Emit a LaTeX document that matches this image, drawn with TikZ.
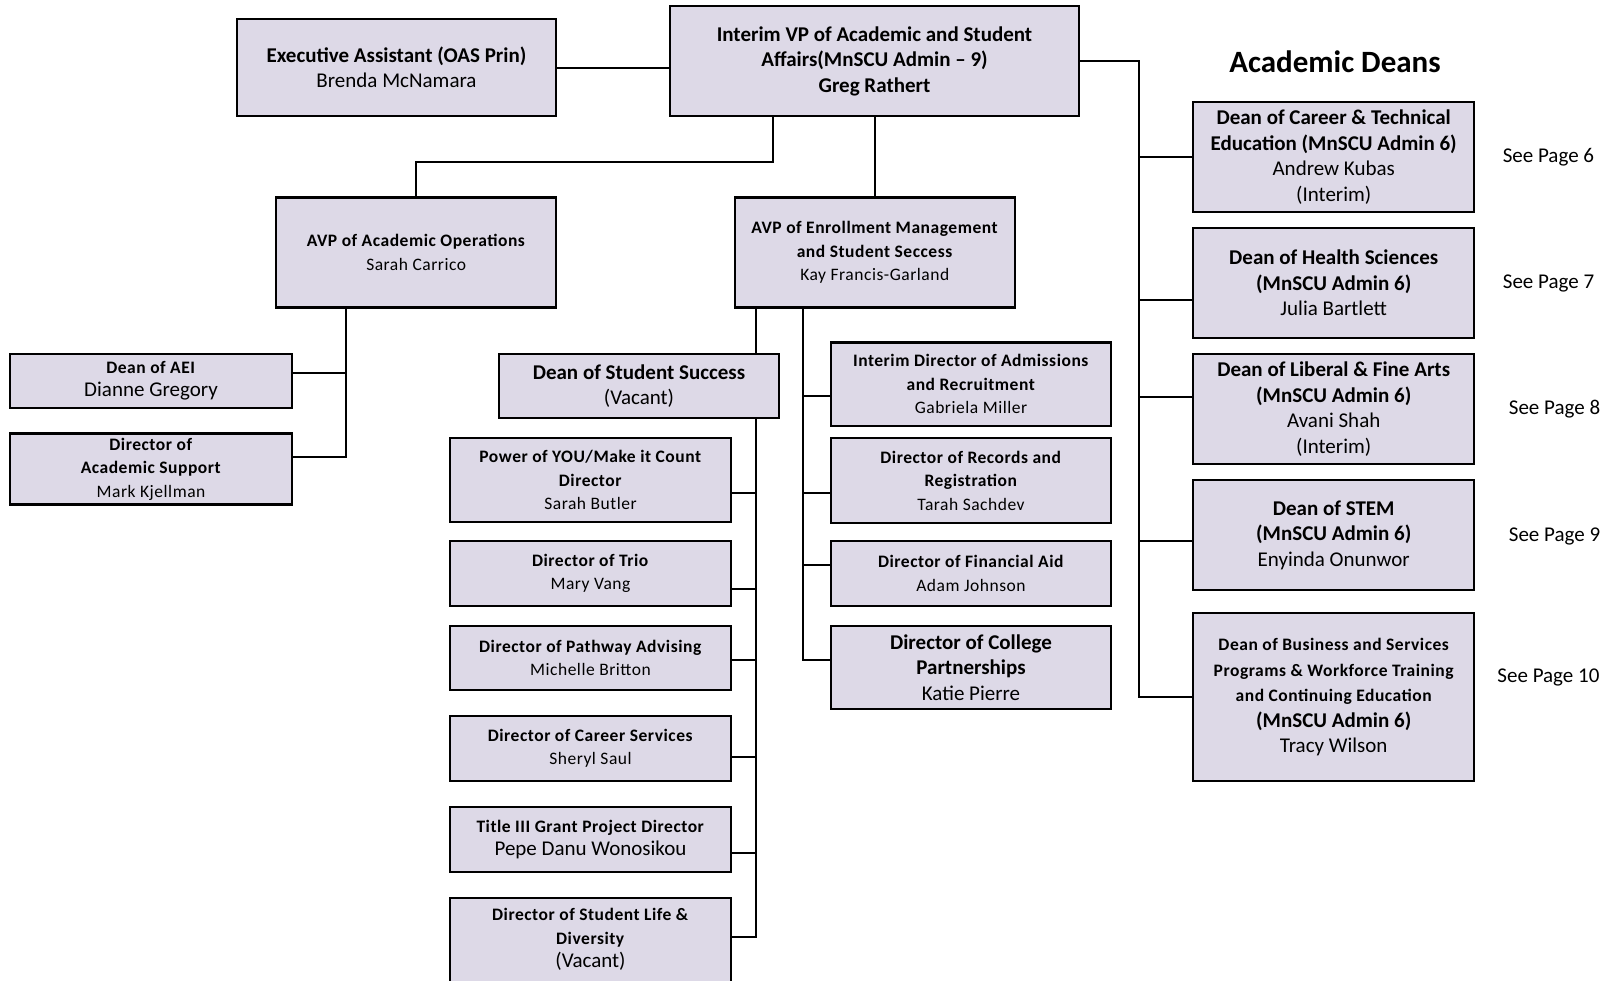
\documentclass[tikz,border=0pt]{standalone}
\usepackage{fontspec}
\setmainfont{Carlito}
\newfontfamily\spcfont{Carlito}[LetterSpace=3]
\usetikzlibrary{calc}
\definecolor{boxfill}{RGB}{221,217,231}
\newcommand\bigf{\fontsize{21}{25.5}\selectfont}
\newcommand\smallf{\spcfont\fontsize{17.5}{23.5}\selectfont}
\newcommand\headf{\fontsize{31}{36}\selectfont}
\begin{document}
\begin{tikzpicture}[x=1pt,y=-1pt,
  box/.style={draw=black, line width=2.2pt, fill=boxfill, align=center, inner sep=0pt, minimum width=281pt},
  conn/.style={draw=black, line width=2pt},
  bigtext/.style={font=\bigf},
  smalltext/.style={font=\smallf},
  pagelabel/.style={font=\bigf, inner sep=0pt}]
\fill[white] (0,0) rectangle (1608,980);
\useasboundingbox (0,0) rectangle (1608,980);
\clip (0,0) rectangle (1608,980);

% top level
\node[box, bigtext, minimum width=319pt, minimum height=97pt] (exec) at (396.5,67.5) {\textbf{Executive Assistant (OAS Prin)}\\Brenda McNamara};
\node[box, bigtext, minimum width=409pt, minimum height=110pt] (vp) at (874.5,61) {\textbf{Interim VP of Academic and Student}\\\textbf{Affairs(MnSCU Admin -- 9)}\\\textbf{Greg Rathert}};

% AVPs
\node[box, smalltext, minimum width=280pt, minimum height=110pt] (avpops) at (416.2,252.5) {\textbf{AVP of Academic Operations}\\Sarah Carrico};
\node[box, smalltext, minimum width=280pt, minimum height=110pt] (avpenr) at (874.8,252.5) {\textbf{AVP of Enrollment Management}\\\textbf{and Student Seccess}\\Kay Francis-Garland};

% academic operations
\node[box, smalltext, minimum width=282pt, minimum height=54pt] (aei) at (151,380.8) {\textbf{Dean of AEI}\\{\rmfamily\bigf Dianne Gregory}};
\node[box, smalltext, minimum width=282pt, minimum height=71pt] (ads) at (151,469) {\textbf{Director of}\\\textbf{Academic Support}\\Mark Kjellman};

% student success
\node[box, bigtext, minimum width=280pt, minimum height=64pt] (dss) at (639,386.2) {\textbf{Dean of Student Success}\\(Vacant)};
\node[box, smalltext, minimum height=83.4pt] (pyou) at (590.5,480) {\textbf{Power of YOU/Make it Count}\\\textbf{Director}\\Sarah Butler};
\node[box, smalltext, minimum height=64.7pt] (trio) at (590.5,573.3) {\textbf{Director of Trio}\\Mary Vang};
\node[box, smalltext, minimum height=64pt] (path) at (590.5,658) {\textbf{Director of Pathway Advising}\\Michelle Britton};
\node[box, smalltext, minimum height=65pt] (career) at (590.5,748.5) {\textbf{Director of Career Services}\\Sheryl Saul};
\node[box, smalltext, minimum height=64.4pt] (title) at (590.5,839.5) {\textbf{Title III Grant Project Director}\\{\rmfamily\bigf Pepe Danu Wonosikou}};
\node[box, smalltext, minimum height=84.3pt] (life) at (590.5,939.8) {\textbf{Director of Student Life \&}\\\textbf{Diversity}\\{\rmfamily\bigf (Vacant)}};

% enrollment
\node[box, smalltext, minimum width=280pt, minimum height=83.5pt] (adm) at (971,384.2) {\textbf{Interim Director of Admissions}\\\textbf{and Recruitment}\\Gabriela Miller};
\node[box, smalltext, minimum width=280pt, minimum height=84.4pt] (rec) at (971,480.5) {\textbf{Director of Records and}\\\textbf{Registration}\\Tarah Sachdev};
\node[box, smalltext, minimum width=280pt, minimum height=64.4pt] (fin) at (971,573.5) {\textbf{Director of Financial Aid}\\Adam Johnson};
\node[box, bigtext, minimum width=280pt, minimum height=82.7pt] (coll) at (971,667.3) {\textbf{Director of College}\\\textbf{Partnerships}\\Katie Pierre};

% academic deans
\node[font=\headf\bfseries, inner sep=0pt] (head) at (1335,61.5) {Academic Deans};
\node[box, bigtext, minimum width=280.7pt, minimum height=110pt] (cte) at (1333.7,157) {\textbf{Dean of Career \& Technical}\\\textbf{Education (MnSCU Admin 6)}\\Andrew Kubas\\(Interim)};
\node[box, bigtext, minimum width=280.7pt, minimum height=109.4pt] (health) at (1333.7,283) {\textbf{Dean of Health Sciences}\\\textbf{(MnSCU Admin 6)}\\Julia Bartlett};
\node[box, bigtext, minimum width=280.7pt, minimum height=110pt] (lib) at (1333.7,409) {\textbf{Dean of Liberal \& Fine Arts}\\\textbf{(MnSCU Admin 6)}\\Avani Shah\\(Interim)};
\node[box, bigtext, minimum width=280.7pt, minimum height=110pt] (stem) at (1333.7,535) {\textbf{Dean of STEM}\\\textbf{(MnSCU Admin 6)}\\Enyinda Onunwor};
\node[box, bigtext, minimum width=280.7pt, minimum height=167.7pt] (bus) at (1333.7,697.2) {{\smallf\bfseries Dean of Business and Services}\\{\smallf\bfseries Programs \& Workforce Training}\\{\smallf\bfseries and Continuing Education}\\\textbf{(MnSCU Admin 6)}\\Tracy Wilson};

\node[pagelabel] (p6) at (1548.4,157) {See Page 6};
\node[pagelabel] (p7) at (1548.5,283) {See Page 7};
\node[pagelabel] (p8) at (1554.5,409) {See Page 8};
\node[pagelabel] (p9) at (1554.5,536.7) {See Page 9};
\node[pagelabel] (p10) at (1548.4,677) {See Page 10};

% connectors from VP
\draw[conn] (exec.east) -- (exec.east -| vp.west);
\coordinate (j1) at (773,161.7);
\draw[conn] (j1 |- vp.south) -- (j1) -| (avpops.north);
\draw[conn] (vp.south) -- (vp.south |- avpenr.north);
\coordinate (tr) at (1139,0);
\draw[conn] (vp.east) -| (tr |- bus.west) -- (bus.west);
\coordinate (bcte) at (1139,156.7);
\coordinate (bhe) at (1139,300.3);
\coordinate (blib) at (1139,396.7);
\coordinate (bstem) at (1139,540.7);
\draw[conn] (bcte) -- (bcte -| cte.west);
\draw[conn] (bhe) -- (bhe -| health.west);
\draw[conn] (blib) -- (blib -| lib.west);
\draw[conn] (bstem) -- (bstem -| stem.west);

% academic operations
\coordinate (ta) at (346.3,456.7);
\coordinate (baei) at (346.3,372.7);
\draw[conn] (ta |- avpops.south) -- (ta) -- (ta -| ads.east);
\draw[conn] (baei) -- (baei -| aei.east);

% student success
\coordinate (ts) at (756,0);
\draw[conn] (ts |- avpenr.south) -- (ts |- dss.north);
\coordinate (tsb) at (756,937.3);
\draw[conn] (ts |- dss.south) -- (tsb) -- (tsb -| life.east);
\coordinate (bpy) at (756,492.7);
\coordinate (btr) at (756,589);
\coordinate (bpa) at (756,660.3);
\coordinate (bca) at (756,756.7);
\coordinate (bti) at (756,853.3);
\draw[conn] (bpy) -- (bpy -| pyou.east);
\draw[conn] (btr) -- (btr -| trio.east);
\draw[conn] (bpa) -- (bpa -| path.east);
\draw[conn] (bca) -- (bca -| career.east);
\draw[conn] (bti) -- (bti -| title.east);

% enrollment
\coordinate (te) at (803,660.3);
\draw[conn] (te |- avpenr.south) -- (te) -- (te -| coll.west);
\coordinate (bad) at (803,396);
\coordinate (bre) at (803,492.7);
\coordinate (bfi) at (803,565);
\draw[conn] (bad) -- (bad -| adm.west);
\draw[conn] (bre) -- (bre -| rec.west);
\draw[conn] (bfi) -- (bfi -| fin.west);
\end{tikzpicture}
\end{document}
